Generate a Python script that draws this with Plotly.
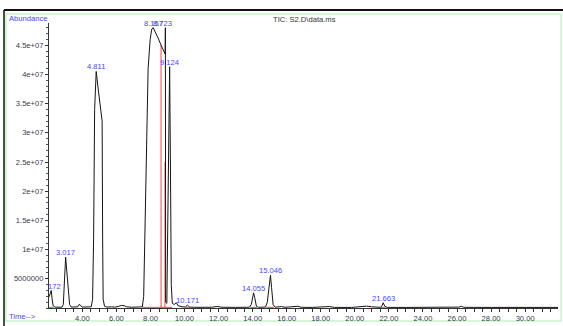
import plotly.graph_objects as go

# ---- data ----
times = [2.04, 2.10, 2.172, 2.22, 2.28, 2.40, 2.60, 2.80, 2.88, 2.95, 3.017, 3.08, 3.16, 3.25, 3.35,
         3.60, 3.72, 3.80, 3.88, 3.98, 4.30, 4.52, 4.60, 4.66, 4.72, 4.811, 4.95, 5.10, 5.16, 5.19,
         5.22, 5.30, 5.45, 5.70, 5.90, 6.10, 6.30, 6.45, 6.60, 6.90, 7.30, 7.52, 7.60, 7.68, 7.76,
         7.86, 7.98, 8.08, 8.157, 8.30, 8.45, 8.62, 8.75, 8.86, 8.875, 8.89, 8.96, 9.02, 9.08, 9.124,
         9.17, 9.22, 9.28, 9.40, 9.52, 9.62, 9.85, 10.05, 10.171, 10.30, 10.6, 11.0, 11.6, 11.9, 12.2,
         13.0, 13.80, 13.92, 14.0, 14.055, 14.12, 14.22, 14.35, 14.75, 14.86, 14.97, 15.046, 15.11, 15.2,
         15.32, 15.68, 15.9, 16.45, 16.65, 16.85, 17.5, 18.5, 18.8, 19.8, 20.4, 20.7, 21.0, 21.3,
         21.50, 21.58, 21.663, 21.76, 21.9, 23.0, 25.0, 26.1, 26.25, 26.4, 28.0, 30.0, 31.93]
abundance = [1.9e6, 2.6e6, 3.0e6, 1.6e6, 4e5, 1.5e5, 1.2e5, 1.3e5, 6e5, 4.5e6, 8.7e6, 6.5e6, 3.0e6, 6e5, 1.5e5,
             1.2e5, 2e5, 6e5, 5e5, 1.5e5, 1.2e5, 2e5, 1.5e6, 1.2e7, 3.4e7, 4.05e7, 3.7e7, 3.35e7, 3.2e7, 1.2e7,
             1.5e6, 3e5, 1.5e5, 2e5, 1.5e5, 2.5e5, 4.5e5, 4e5, 2e5, 1.3e5, 1.2e5, 2e5, 2e6, 1.4e7, 3.0e7,
             4.1e7, 4.6e7, 4.78e7, 4.8e7, 4.72e7, 4.62e7, 4.5e7, 4.42e7, 4.35e7, 4.8e7, 1.0e6, 8e5, 1.5e7, 3.5e7, 4.13e7,
             2.5e7, 4e6, 8e5, 6e5, 9e5, 4e5, 2e5, 1.8e5, 5e5, 1.5e5, 1.2e5, 1.0e5, 1.3e5, 2.6e5, 1.3e5,
             1.1e5, 1.3e5, 6e5, 2.0e6, 2.6e6, 1.8e6, 3e5, 1.2e5, 1.5e5, 1.0e6, 4.0e6, 5.6e6, 3.5e6, 6e5,
             1.3e5, 2.5e5, 1.2e5, 2.5e5, 3e5, 1.2e5, 1.0e5, 2.5e5, 1.0e5, 1.0e5, 1.8e5, 3.2e5, 2.0e5, 1.2e5,
             1.2e5, 3e5, 9e5, 3e5, 1.1e5, 1.0e5, 1.0e5, 1.5e5, 2.8e5, 1.2e5, 1.0e5, 1.0e5, 1.0e5]

peak_labels = ["2.172", "3.017", "4.811", "8.157", "8.723", "9.124", "10.171", "14.055", "15.046", "21.663"]
peak_times = [2.172, 3.017, 4.811, 8.157, 8.723, 9.124, 10.171, 14.055, 15.046, 21.663]
peak_heights = [3.0e6, 8.7e6, 4.05e7, 4.8e7, 4.8e7, 4.13e7, 5e5, 2.6e6, 5.6e6, 9e5]

integ_start = [2.04, 7.52, 8.62, 8.88, 10.05, 13.85, 14.80, 21.50]
integ_end = [2.30, 8.62, 8.88, 9.28, 10.30, 14.25, 15.25, 21.80]
integ_level = 1.1e5
drop_times = [8.62, 8.85]
drop_heights = [4.5e7, 2.5e7]

y_tickvals = [5e6, 1e7, 1.5e7, 2e7, 2.5e7, 3e7, 3.5e7, 4e7, 4.5e7]
y_ticktext = ["5000000", "1e+07", "1.5e+07", "2e+07", "2.5e+07", "3e+07", "3.5e+07", "4e+07", "4.5e+07"]

X_RANGE = [2.04, 31.93]
W, H = 563, 326
FONT = "Liberation Sans, Arial, sans-serif"
BLUE = "#4646ff"
FS = 7.6

fig = go.Figure()

# integration baselines (red)
bx, by = [], []
for s, e in zip(integ_start, integ_end):
    bx += [s, e, None]
    by += [integ_level, integ_level, None]
for t, h in zip(drop_times, drop_heights):
    bx += [t, t, None]
    by += [0, h, None]
fig.add_trace(go.Scatter(x=bx, y=by, mode="lines", line=dict(color="#ff4040", width=1),
                         hoverinfo="skip", showlegend=False))

# TIC trace
fig.add_trace(go.Scatter(x=times, y=abundance, mode="lines", line=dict(color="#151515", width=1),
                         showlegend=False))

# peak labels: the one at the left edge is clipped by the plot area (text trace),
# the rest are annotations anchored just above each apex
edge = [t - X_RANGE[0] < 0.4 for t in peak_times]
eidx = [i for i, e in enumerate(edge) if e]
fig.add_trace(go.Scatter(x=[peak_times[i] for i in eidx], y=[peak_heights[i] for i in eidx],
                         mode="text", text=[peak_labels[i] for i in eidx],
                         textposition="top center", cliponaxis=True,
                         textfont=dict(family=FONT, size=FS, color=BLUE), showlegend=False))

px2x = lambda p: p / W
py2y = lambda p: (H - p) / H

annotations = [
    dict(text="TIC: S2.D\\data.ms", xref="paper", yref="paper", x=px2x(304), y=py2y(20),
         xanchor="center", yanchor="middle",
         showarrow=False, font=dict(family=FONT, size=FS, color="#333")),
    dict(text="Abundance", xref="paper", yref="paper", x=px2x(7), y=py2y(18),
         xanchor="left", yanchor="middle",
         showarrow=False, font=dict(family=FONT, size=FS, color=BLUE)),
    dict(text="Time-->", xref="paper", yref="paper", x=px2x(7), y=py2y(316),
         xanchor="left", yanchor="middle",
         showarrow=False, font=dict(family=FONT, size=FS, color=BLUE)),
]
for i, e in enumerate(edge):
    if e:
        continue
    annotations.append(dict(text=peak_labels[i], x=peak_times[i], y=peak_heights[i], xref="x", yref="y",
                            xanchor="center", yanchor="bottom", yshift=-2, showarrow=False,
                            font=dict(family=FONT, size=FS, color=BLUE)))

fig.update_layout(
    width=W, height=H,
    margin=dict(l=0, r=0, t=0, b=0),
    paper_bgcolor="white", plot_bgcolor="white",
    font=dict(family=FONT, size=FS, color="#333"),
    xaxis=dict(domain=[px2x(49), px2x(558)], range=X_RANGE,
               tick0=0, dtick=2, tickformat=".2f", ticks="outside", ticklen=3,
               tickcolor="#333", showline=True, linecolor="#333", linewidth=1,
               showgrid=False, zeroline=False,
               tickfont=dict(family=FONT, size=FS, color="#3a3a4a"),
               minor=dict(dtick=0.5, ticks="outside", ticklen=3, tickcolor="#333")),
    yaxis=dict(domain=[py2y(308), py2y(23)], range=[0, 4.88e7],
               tickvals=y_tickvals, ticktext=y_ticktext, ticks="outside", ticklen=3,
               tickcolor="#333", showline=True, linecolor="#333", linewidth=1,
               showgrid=False, zeroline=False,
               tickfont=dict(family=FONT, size=FS, color="#3a3a4a"),
               minor=dict(dtick=1e6, ticks="outside", ticklen=2, tickcolor="#555")),
    shapes=[
        dict(type="rect", xref="paper", yref="paper", x0=px2x(6), x1=px2x(561), y0=py2y(321), y1=py2y(14),
             line=dict(color="#c8f5c8", width=1.5), layer="below"),
        dict(type="line", xref="paper", yref="paper", x0=px2x(4), x1=1, y0=py2y(10), y1=py2y(10),
             line=dict(color="#111", width=2)),
        dict(type="line", xref="paper", yref="paper", x0=px2x(4), x1=px2x(4), y0=0, y1=py2y(10),
             line=dict(color="#111", width=1.5)),
    ],
    annotations=annotations,
)

fig.write_html("out.html", config={"displayModeBar": False},
               post_script="document.body.style.margin='0px';document.body.style.overflow='hidden';")
